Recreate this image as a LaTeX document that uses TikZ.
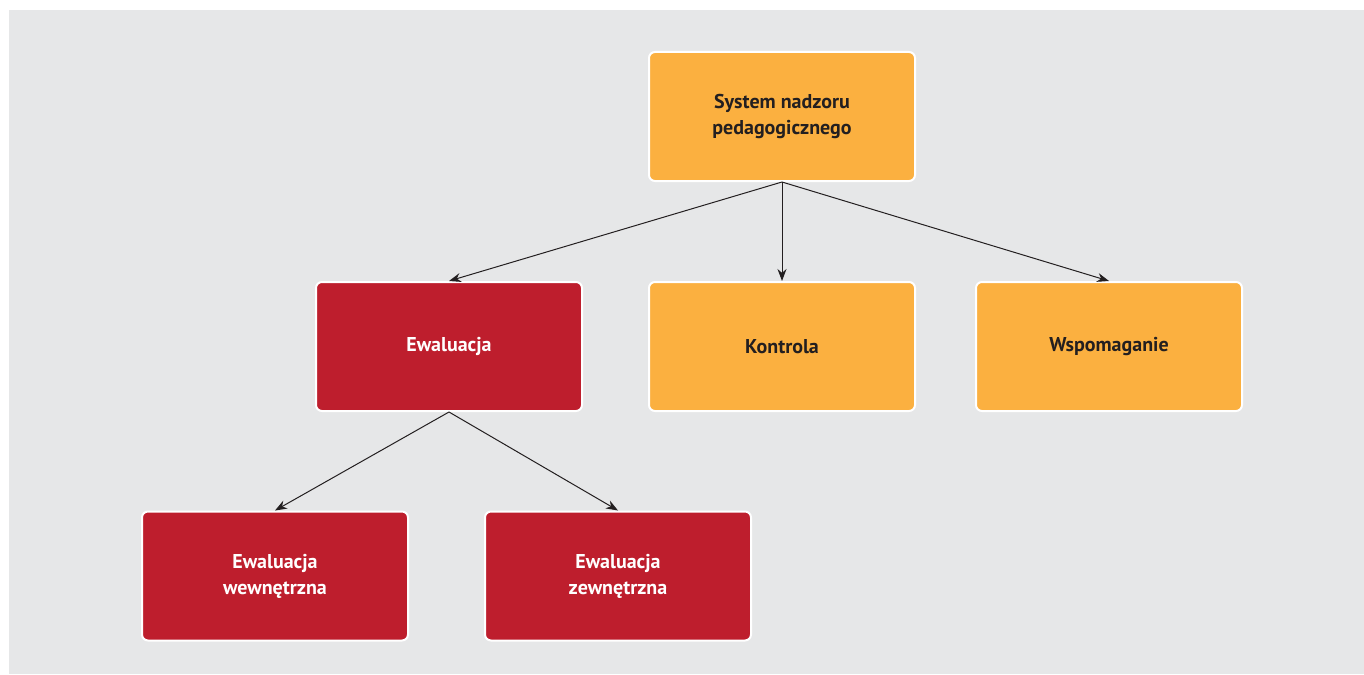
\documentclass[tikz,border=0pt]{standalone}
\usepackage{fontspec}
\setmainfont{PT Sans}
\usetikzlibrary{arrows.meta}
\definecolor{bggrey}{HTML}{E6E7E8}
\definecolor{boxorange}{HTML}{FBB040}
\definecolor{boxred}{HTML}{BE1E2D}
\definecolor{inkdark}{HTML}{231F20}
\tikzset{
  box/.style={draw=white, line width=2pt, rounded corners=6pt,
    minimum width=266pt, minimum height=129pt, inner sep=0pt,
    align=center, font=\bfseries\fontsize{20}{26}\selectfont},
  orangebox/.style={box, fill=boxorange, text=inkdark},
  redbox/.style={box, fill=boxred, text=white},
  link/.style={draw=inkdark, line width=1pt, -{Stealth[length=12pt,width=9pt]}}
}
\begin{document}
\begin{tikzpicture}[x=1pt, y=-1pt]
    \useasboundingbox (0,0) rectangle (1364,674);
    \fill[bggrey] (9,10) rectangle (1364,674);
    \node[orangebox] (system) at (782,116.5) {System nadzoru\\pedagogicznego};
    \node[redbox] (ewal) at (449,346.5) {Ewaluacja};
    \node[orangebox] (kontrola) at (782,346.5) {Kontrola};
    \node[orangebox] (wspom) at (1109,346.5) {Wspomaganie};
    \node[redbox] (wewn) at (275,576) {Ewaluacja\\wewnętrzna};
    \node[redbox] (zewn) at (618,576) {Ewaluacja\\zewnętrzna};
    \draw[link] (system.south) -- (ewal.north);
    \draw[link] (system.south) -- (kontrola.north);
    \draw[link] (system.south) -- (wspom.north);
    \draw[link] (ewal.south) -- (wewn.north);
    \draw[link] (ewal.south) -- (zewn.north);
\end{tikzpicture}
\end{document}
